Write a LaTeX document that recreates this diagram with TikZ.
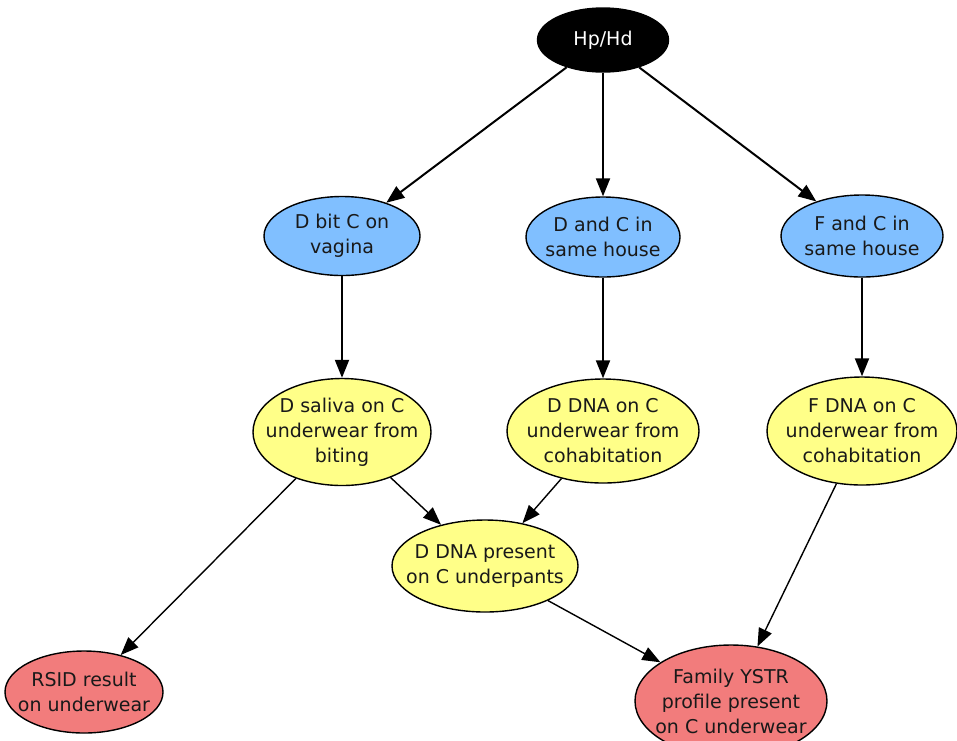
\documentclass[tikz,border=0pt]{standalone}
\usepackage{fontspec}
\setmainfont{DejaVu Sans}
\usetikzlibrary{shapes.geometric,arrows.meta}
\definecolor{causeblue}{RGB}{128,191,255}
\definecolor{evidyellow}{RGB}{255,255,136}
\definecolor{findred}{RGB}{242,124,124}
\begin{document}
\begin{tikzpicture}[x=1pt, y=-1pt, >={Triangle[length=18pt,width=14pt]},
        var/.style={ellipse, draw, line width=1.4pt, inner sep=0pt},
        txt/.style={align=center, font=\fontsize{19}{25}\selectfont, text=black!90},
        link/.style={->, line width=2pt},
        thinlink/.style={->, line width=1.4pt}]
        \useasboundingbox (0,0) rectangle (957,740);

        % hypothesis
        \node[var, fill=black, minimum width=131pt, minimum height=64pt,
              label={[txt, text=white]center:Hp/Hd}] (hphd) at (603,40) {};

        % activities
        \node[var, fill=causeblue, minimum width=156pt, minimum height=79pt,
              label={[txt]center:D bit C on\\vagina}] (bite) at (342,236) {};
        \node[var, fill=causeblue, minimum width=154pt, minimum height=80pt,
              label={[txt]center:D and C in\\same house}] (dhouse) at (603,237) {};
        \node[var, fill=causeblue, minimum width=162pt, minimum height=82pt,
              label={[txt]center:F and C in\\same house}] (fhouse) at (862,236) {};

        % transfers
        \node[var, fill=evidyellow, minimum width=178pt, minimum height=107pt,
              label={[txt]center:D saliva on C\\underwear from\\biting}] (saliva) at (342,432) {};
        \node[var, fill=evidyellow, minimum width=192pt, minimum height=104pt,
              label={[txt]center:D DNA on C\\underwear from\\cohabitation}] (dcohab) at (603,431) {};
        \node[var, fill=evidyellow, minimum width=190pt, minimum height=108pt,
              label={[txt]center:F DNA on C\\underwear from\\cohabitation}] (fcohab) at (862,431) {};
        \node[var, fill=evidyellow, minimum width=186pt, minimum height=92pt,
              label={[txt]center:D DNA present\\on C underpants}] (dpresent) at (485,566) {};

        % findings
        \node[var, fill=findred, minimum width=158pt, minimum height=82pt,
              label={[txt]center:RSID result\\on underwear}] (rsid) at (84,692) {};
        \node[var, fill=findred, minimum width=192pt, minimum height=112pt,
              label={[txt]center:Family YSTR\\profile present\\on C underwear}] (ystr) at (731,701) {};

        \draw[link] (hphd) -- (bite);
        \draw[link] (hphd) -- (dhouse);
        \draw[link] (hphd) -- (fhouse);
        \draw[link] (bite) -- (saliva);
        \draw[link] (dhouse) -- (dcohab);
        \draw[link] (fhouse) -- (fcohab);
        \draw[thinlink] (saliva) -- (rsid);
        \draw[thinlink] (saliva) -- (dpresent);
        \draw[thinlink] (dcohab) -- (dpresent);
        \draw[thinlink] (dpresent) -- (ystr);
        \draw[thinlink] (fcohab) -- (ystr);

    \end{tikzpicture}
\end{document}
